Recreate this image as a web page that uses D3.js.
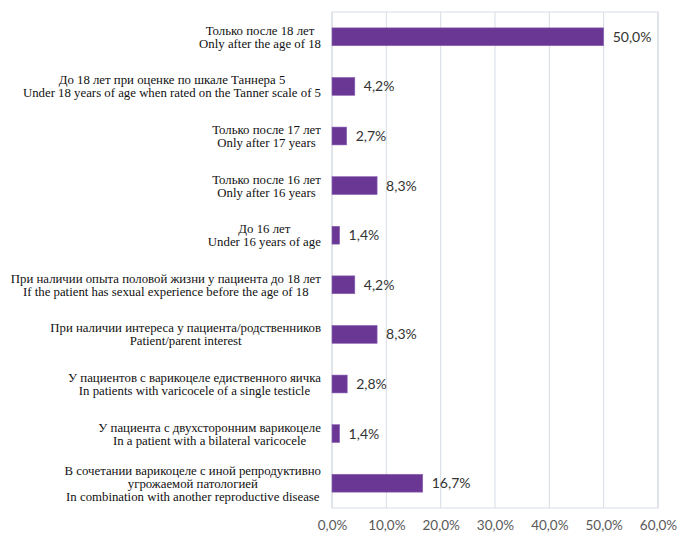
<!DOCTYPE html>
<html>
<head>
<meta charset="utf-8">
<script src="https://cdn.jsdelivr.net/npm/d3@7"></script>
<style>
  body { margin: 0; background: #fff; }
</style>
</head>
<body>
<div id="chart"></div>
<script>
// categories, each label as lines (russian / english)
const labels = [
  ['Только после 18 лет', 'Only after the age of 18'],
  ['До 18 лет при оценке по шкале Таннера 5', 'Under 18 years of age when rated on the Tanner scale of 5'],
  ['Только после 17 лет', 'Only after 17 years'],
  ['Только после 16 лет', 'Only after 16 years'],
  ['До 16 лет', 'Under 16 years of age'],
  ['При наличии опыта половой жизни у пациента до 18 лет', 'If the patient has sexual experience before the age of 18'],
  ['При наличии интереса у пациента/родственников', 'Patient/parent interest'],
  ['У пациентов с варикоцеле едиственного яичка', 'In patients with varicocele of a single testicle'],
  ['У пациента с двухсторонним варикоцеле', 'In a patient with a bilateral varicocele'],
  ['В сочетании варикоцеле с иной репродуктивно', 'угрожаемой патологией', 'In combination with another reproductive disease'],
];
const values = [50.0, 4.2, 2.7, 8.3, 1.4, 4.2, 8.3, 2.8, 1.4, 16.7];
const ticks = [0, 10, 20, 30, 40, 50, 60];

const W = 678, H = 535;
const margin = { top: 12, right: 20, bottom: 27, left: 332 };
const width = W - margin.left - margin.right;
const height = H - margin.top - margin.bottom;

const svg = d3.select('#chart')
  .append('svg')
  .attr('width', W)
  .attr('height', H)
  .append('g')
  .attr('transform', `translate(${margin.left},${margin.top})`);

const x = d3.scaleLinear().domain([0, 60]).range([0, width]);
const y = d3.scaleBand()
  .domain(labels.map((d, i) => i))
  .range([0, height])
  .paddingInner(0.64)
  .paddingOuter(0.32);

const fmt = (v) => d3.format('.1f')(v).replace('.', ',') + '%';

// grid + frame
svg.append('g')
  .selectAll('line')
  .data(ticks)
  .enter()
  .append('line')
  .attr('x1', (d) => x(d))
  .attr('x2', (d) => x(d))
  .attr('y1', 0)
  .attr('y2', height)
  .attr('stroke', '#d6dce4')
  .attr('stroke-width', 1);

svg.append('rect')
  .attr('x', 0)
  .attr('y', 0)
  .attr('width', width)
  .attr('height', height)
  .attr('fill', 'none')
  .attr('stroke', '#d6dce4');

// x axis labels
svg.append('g')
  .attr('transform', `translate(0,${height})`)
  .call(d3.axisBottom(x).tickValues(ticks).tickSize(0).tickPadding(12).tickFormat(fmt))
  .call((g) => g.select('.domain').remove())
  .selectAll('text')
  .attr('fill', '#595959')
  .style('font-family', 'Lato, sans-serif')
  .style('font-size', '13.5px');

// bars
svg.selectAll('.bar')
  .data(values)
  .enter()
  .append('rect')
  .attr('class', 'bar')
  .attr('x', x(0))
  .attr('y', (d, i) => y(i))
  .attr('width', (d) => x(d) - x(0))
  .attr('height', y.bandwidth())
  .attr('fill', '#6a3794')
  .attr('stroke', '#8d64b5')
  .attr('stroke-width', 0.6);

// value labels
svg.selectAll('.val')
  .data(values)
  .enter()
  .append('text')
  .attr('class', 'val')
  .attr('x', (d) => x(d) + 9)
  .attr('y', (d, i) => y(i) + y.bandwidth() / 2)
  .attr('dy', '0.36em')
  .attr('fill', '#333')
  .style('font-family', 'Lato, sans-serif')
  .style('font-size', '14px')
  .text(fmt);

// category labels
const lineH = 13;
const cat = svg.selectAll('.cat')
  .data(labels)
  .enter()
  .append('text')
  .attr('class', 'cat')
  .attr('text-anchor', 'middle')
  .attr('fill', '#111')
  .style('font-family', '"Liberation Serif", serif')
  .style('font-size', '12.8px')
  .attr('transform', (d, i) => `translate(0,${y(i) + y.bandwidth() / 2})`);

cat.selectAll('tspan')
  .data((d) => d.map((t, j) => ({ t, j, n: d.length })))
  .enter()
  .append('tspan')
  .attr('x', 0)
  .attr('y', (d) => (d.j - (d.n - 1) / 2) * lineH)
  .attr('dy', '0.35em')
  .text((d) => d.t);

// center each label block, right edge at x = -11
cat.each(function () {
  const bb = this.getBBox();
  const cx = -11 - bb.width / 2;
  d3.select(this).selectAll('tspan').attr('x', cx);
});
</script>
</body>
</html>
